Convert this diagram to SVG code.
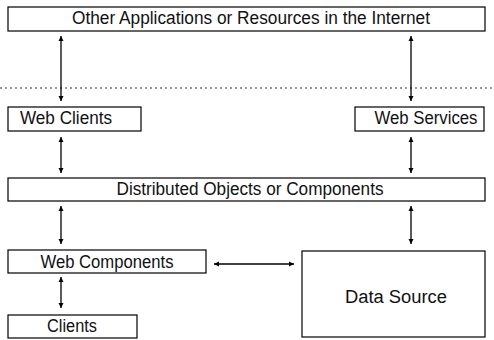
<svg xmlns="http://www.w3.org/2000/svg" width="494" height="340" viewBox="0 0 494 340">
  <defs>
    <marker id="head" viewBox="0 0 10 10" refX="10" refY="5" markerWidth="5" markerHeight="6" orient="auto-start-reverse" markerUnits="userSpaceOnUse">
      <path d="M0,0 L10,5 L0,10 Z" fill="#000"/>
    </marker>
    <style>
      .box { fill: #fff; stroke: #000; stroke-width: 1.2; }
      .lbl { font-family: "Liberation Sans", Arial, sans-serif; font-size: 18px; fill: #111; text-anchor: middle; }
      .link { stroke: #000; stroke-width: 1.3; fill: none; marker-start: url(#head); marker-end: url(#head); }
      .divider { stroke: #333; stroke-width: 1; stroke-dasharray: 2 3; }
    </style>
  </defs>
  <rect width="494" height="340" fill="#fff"/>

  <!-- boundary between the internet and the local system -->
  <line class="divider" x1="0" y1="88" x2="494" y2="88"/>

  <g id="connectors">
    <line class="link" x1="61" y1="36" x2="61" y2="101"/>
    <line class="link" x1="411" y1="36" x2="411" y2="101"/>
    <line class="link" x1="61" y1="137" x2="61" y2="173"/>
    <line class="link" x1="411" y1="137" x2="411" y2="173"/>
    <line class="link" x1="61" y1="206" x2="61" y2="244"/>
    <line class="link" x1="411" y1="206" x2="411" y2="244"/>
    <line class="link" x1="61" y1="277" x2="61" y2="308"/>
    <line class="link" x1="214" y1="264" x2="294" y2="264"/>
  </g>

  <g id="internet">
    <rect class="box" x="8" y="7" width="477" height="24"/>
    <text class="lbl" x="251" y="24" textLength="358" lengthAdjust="spacingAndGlyphs">Other Applications or Resources in the Internet</text>
  </g>

  <g id="web-clients">
    <rect class="box" x="8" y="107" width="133" height="24"/>
    <text class="lbl" x="66" y="124" textLength="92" lengthAdjust="spacingAndGlyphs">Web Clients</text>
  </g>

  <g id="web-services">
    <rect class="box" x="355" y="107" width="129" height="24"/>
    <text class="lbl" x="426" y="124" textLength="103" lengthAdjust="spacingAndGlyphs">Web Services</text>
  </g>

  <g id="distributed-objects">
    <rect class="box" x="8" y="178" width="477" height="23"/>
    <text class="lbl" x="250" y="195" textLength="267" lengthAdjust="spacingAndGlyphs">Distributed Objects or Components</text>
  </g>

  <g id="web-components">
    <rect class="box" x="8" y="250" width="198" height="23"/>
    <text class="lbl" x="107" y="268" textLength="133" lengthAdjust="spacingAndGlyphs">Web Components</text>
  </g>

  <g id="clients">
    <rect class="box" x="8" y="315" width="129" height="23"/>
    <text class="lbl" x="72" y="332" textLength="50" lengthAdjust="spacingAndGlyphs">Clients</text>
  </g>

  <g id="data-source">
    <rect class="box" x="302" y="251" width="183" height="86"/>
    <text class="lbl" x="396" y="303" textLength="102" lengthAdjust="spacingAndGlyphs">Data Source</text>
  </g>
</svg>
